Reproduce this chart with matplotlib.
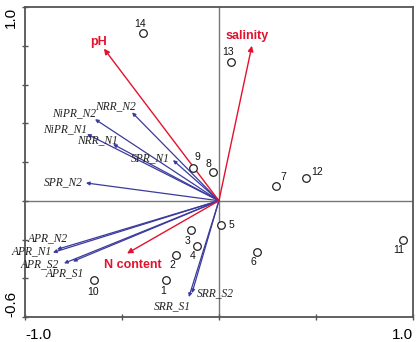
import numpy as np
import matplotlib
matplotlib.use("Agg")
import matplotlib.pyplot as plt

# site scores
sites = ["1", "2", "3", "4", "5", "6", "7", "8", "9", "10", "11", "12", "13", "14"]
site_x = [-0.273, -0.222, -0.144, -0.113, 0.010, 0.196, 0.294, -0.031, -0.134, -0.644, 0.948, 0.448, 0.062, -0.392]
site_y = [-0.410, -0.282, -0.149, -0.236, -0.123, -0.262, 0.077, 0.149, 0.169, -0.410, -0.205, 0.118, 0.718, 0.867]

# response variables (blue arrows)
resp = ["NRR_N2", "NiPR_N2", "NiPR_N1", "NRR_N1", "SPR_N1", "SPR_N2",
        "APR_N2", "APR_N1", "APR_S2", "APR_S1", "SRR_S1", "SRR_S2"]
resp_x = [-0.448, -0.639, -0.680, -0.546, -0.237, -0.686, -0.835, -0.856, -0.799, -0.753, -0.155, -0.139]
resp_y = [0.456, 0.421, 0.344, 0.292, 0.210, 0.092, -0.251, -0.267, -0.323, -0.313, -0.497, -0.477]

# environmental variables (red arrows)
env = ["pH", "salinity", "N content"]
env_x = [-0.593, 0.170, -0.474]
env_y = [0.785, 0.800, -0.272]

# label offsets (pixels)
site_off = [(-3, -11), (-3, -10), (-3, -11), (-4, -10), (11, 0), (-4, -10), (7, 9),
            (-4, 8), (4, 11), (-1, -12), (-4, -10), (11, 6), (-3, 10), (-3, 9)]
resp_off = [(-17, 6), (-21, 6), (-22, 5), (-16, 4), (-23, 2), (-23, 1),
            (-9, 11), (-21, 1), (-24, -1), (-8, -12), (-17, -9), (23, 0)]
env_off = [(-5, 7), (-5, 10), (6, -12)]

RED = "#e3122f"
BLUE = "#3b3b9e"

fig = plt.figure(figsize=(4.2, 3.42), dpi=100)
ax = fig.add_axes([0.0595, 0.0731, 0.9235, 0.9064])
ax.set_xlim(-1.0, 1.0)
ax.set_ylim(-0.6, 1.0)

ax.axhline(0, color="#777777", lw=1.0, zorder=1)
ax.axvline(0, color="#777777", lw=1.0, zorder=1)

for name, x, y, off in zip(resp, resp_x, resp_y, resp_off):
    ax.annotate("", xy=(x, y), xytext=(0, 0),
                arrowprops=dict(arrowstyle="-|>", color=BLUE, lw=0.9,
                                mutation_scale=5, shrinkA=0, shrinkB=0), zorder=2)
    ax.annotate(name, xy=(x, y), xytext=off, textcoords="offset pixels",
                ha="center", va="center", fontsize=8.3, style="italic",
                family="Liberation Serif", color="#222222")

for name, x, y, off in zip(env, env_x, env_y, env_off):
    ax.annotate("", xy=(x, y), xytext=(0, 0),
                arrowprops=dict(arrowstyle="-|>", color=RED, lw=1.0,
                                mutation_scale=8, shrinkA=0, shrinkB=0), zorder=3)
    ax.annotate(name, xy=(x, y), xytext=off, textcoords="offset pixels",
                ha="center", va="center", fontsize=9, fontweight="bold",
                family="Liberation Sans", color=RED)

ax.scatter(site_x, site_y, s=30, facecolors="white", edgecolors="#222222",
           linewidths=0.9, zorder=4)
for name, x, y, off in zip(sites, site_x, site_y, site_off):
    ax.annotate(name, xy=(x, y), xytext=off, textcoords="offset pixels",
                ha="center", va="center", fontsize=7.5, family="Liberation Sans",
                color="#111111")

for s in ax.spines.values():
    s.set_color("#555555")
    s.set_linewidth(1.3)

ax.set_xticks([-1.0, 1.0])
ax.set_xticklabels(["-1.0", "1.0"], fontsize=11, family="Liberation Sans")
ax.set_xticks([-0.5, 0, 0.5], minor=True)
ax.set_yticks([-0.6, 1.0])
ax.set_yticklabels(["-0.6", "1.0"], fontsize=11, family="Liberation Sans", rotation=90)
ax.set_yticks(np.arange(-0.4, 0.9, 0.2), minor=True)
xl = ax.get_xticklabels()
xl[0].set_ha("left")
xl[1].set_ha("right")
yl = ax.get_yticklabels()
yl[0].set_va("bottom")
yl[1].set_va("top")
ax.tick_params(which="both", direction="inout", length=4, color="#555555", width=1)
ax.tick_params(axis="x", pad=6)
ax.tick_params(axis="y", pad=3)

fig.savefig("out.png", dpi=100)
